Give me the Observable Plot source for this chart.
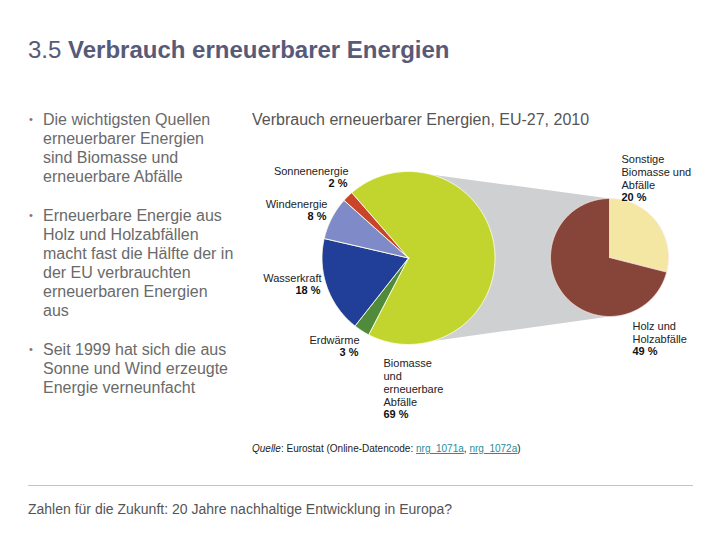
<!DOCTYPE html>
<html>
<head>
<meta charset="utf-8">
<script src="https://cdn.jsdelivr.net/npm/d3@7"></script>
<script src="https://cdn.jsdelivr.net/npm/@observablehq/plot@0.6"></script>
<style>
  html, body { margin: 0; padding: 0; background: #fff; }
  #page { position: relative; width: 720px; height: 540px; overflow: hidden; font-family: "Liberation Sans", Arial, sans-serif; }
  #chart { position: absolute; left: 0; top: 0; }
  .abs { position: absolute; white-space: nowrap; }
  #title { left: 28px; top: 36px; font-size: 24px; line-height: 28px; color: #575a78; }
  #title b { font-weight: bold; }
  ul#bullets { position: absolute; left: 28px; top: 110px; margin: 0; padding: 0; list-style: none; font-size: 16px; line-height: 19px; color: #6a6a6a; white-space: nowrap; }
  ul#bullets li { position: relative; padding-left: 15px; margin-bottom: 20px; }
  ul#bullets li::before { content: "•"; position: absolute; left: 1px; top: 0; font-size: 11px; color: #777; }
  #subtitle { left: 252px; top: 110px; font-size: 16px; line-height: 20px; color: #555; }
  #source { left: 252px; top: 443px; font-size: 10px; color: #222; }
  #source a { color: #2a8c9a; text-decoration: underline; }
  #rule { left: 28px; top: 485px; width: 665px; height: 0; border-top: 1px solid #c4c4c4; }
  #footer { left: 28px; top: 500px; font-size: 14px; line-height: 18px; color: #555; }
</style>
</head>
<body>
<div id="page">
  <div id="chart"></div>
  <div id="title" class="abs">3.5 <b>Verbrauch erneuerbarer Energien</b></div>
  <ul id="bullets">
    <li>Die wichtigsten Quellen<br>erneuerbarer Energien<br>sind Biomasse und<br>erneuerbare Abfälle</li>
    <li>Erneuerbare Energie aus<br>Holz und Holzabfällen<br>macht fast die Hälfte der in<br>der EU verbrauchten<br>erneuerbaren Energien<br>aus</li>
    <li>Seit 1999 hat sich die aus<br>Sonne und Wind erzeugte<br>Energie verneunfacht</li>
  </ul>
  <div id="subtitle" class="abs">Verbrauch erneuerbarer Energien, EU-27, 2010</div>
  <div id="source" class="abs"><i>Quelle</i>: Eurostat (Online-Datencode: <a>nrg_1071a</a>, <a>nrg_1072a</a>)</div>
  <div id="rule" class="abs"></div>
  <div id="footer" class="abs">Zahlen für die Zukunft: 20 Jahre nachhaltige Entwicklung in Europa?</div>
</div>
<script>
// ---- Data ----
const mainCategories = ["Biomasse und erneuerbare Abfälle", "Erdwärme", "Wasserkraft", "Windenergie", "Sonnenenergie"];
const mainValues = [69, 3, 18, 8, 2];
const mainColors = ["#c2d52f", "#4f8b3b", "#213f98", "#7f8bc9", "#c8452b"];

const subCategories = ["Sonstige Biomasse und Abfälle", "Holz und Holzabfälle"];
const subValues = [20, 49];
const subColors = ["#f4e7a3", "#87453a"];

// label texts (name lines)
const mainLabelNames = ["Biomasse\nund\nerneuerbare\nAbfälle", "Erdwärme", "Wasserkraft", "Windenergie", "Sonnenenergie"];
const subLabelNames = ["Sonstige\nBiomasse und\nAbfälle", "Holz und\nHolzabfälle"];

// ---- Layout (page pixels) ----
const main = {cx: 408, cy: 257.5, r: 86.5, start: -41 * Math.PI / 180};
const sub = {cx: 609, cy: 257, r: 59, start: 0};

function slices(values, colors, cats, g) {
  const arcs = d3.pie().sort(null).startAngle(g.start).endAngle(g.start + 2 * Math.PI)(values);
  const pts = [];
  arcs.forEach((a, i) => {
    const n = Math.max(4, Math.ceil((a.endAngle - a.startAngle) / 0.01));
    pts.push({key: cats[i], color: colors[i], x: g.cx, y: g.cy});
    for (let k = 0; k <= n; k++) {
      const t = a.startAngle + (a.endAngle - a.startAngle) * k / n;
      pts.push({key: cats[i], color: colors[i], x: g.cx + g.r * Math.sin(t), y: g.cy - g.r * Math.cos(t)});
    }
    pts.push({key: cats[i], color: colors[i], x: g.cx, y: g.cy});
  });
  return pts;
}

const mainPts = slices(mainValues, mainColors, mainCategories, main);
const subPts = slices(subValues, subColors, subCategories, sub);

const connector = [
  {x: main.cx, y: main.cy - main.r},
  {x: sub.cx, y: sub.cy - sub.r},
  {x: sub.cx, y: sub.cy + sub.r},
  {x: main.cx, y: main.cy + main.r},
  {x: main.cx, y: main.cy - main.r}
];

// label anchors: [x, firstLineCenterY, anchor]
const mainLabelPos = [[383, 362, "start"], [359, 339, "end"], [321, 277, "end"], [327, 203, "end"], [348, 170, "end"]];
const subLabelPos = [[621, 158, "start"], [632, 325, "start"]];
const lh = 13;

const names = [], pcts = [];
function addLabels(catNames, values, pos) {
  catNames.forEach((t, i) => {
    const [x, y, anchor] = pos[i];
    const n = t.split("\n").length;
    names.push({x, y: y + (n - 1) * lh / 2, anchor, text: t});
    pcts.push({x: anchor === "end" ? x - 1 : x, y: y + n * lh, anchor, text: values[i] + " %"});
  });
}
addLabels(mainLabelNames, mainValues, mainLabelPos);
addLabels(subLabelNames, subValues, subLabelPos);

const chart = Plot.plot({
  width: 720,
  height: 540,
  margin: 0,
  x: {domain: [0, 720], range: [0, 720], axis: null},
  y: {domain: [0, 540], range: [0, 540], axis: null},
  color: {type: "identity"},
  style: {fontFamily: "'Liberation Sans', Arial, sans-serif", background: "transparent"},
  marks: [
    Plot.line(connector, {x: "x", y: "y", fill: "#cfd0d2", stroke: "none"}),
    Plot.line(subPts, {x: "x", y: "y", z: "key", fill: "color", stroke: "#fbe9e4", strokeWidth: 0.8, strokeLinejoin: "round"}),
    Plot.line(mainPts, {x: "x", y: "y", z: "key", fill: "color", stroke: "#ffffe8", strokeWidth: 0.9, strokeLinejoin: "round"}),
    ...names.map(d => Plot.text([d], {x: "x", y: "y", text: "text", textAnchor: d.anchor, lineAnchor: "middle", lineHeight: lh / 11, fontSize: 11, fill: "#222", letterSpacing: -0.1})),
    ...pcts.map(d => Plot.text([d], {x: "x", y: "y", text: "text", textAnchor: d.anchor, lineAnchor: "middle", fontSize: 11, fontWeight: "bold", fill: "#111"}))
  ]
});
document.getElementById("chart").appendChild(chart);
</script>
</body>
</html>
